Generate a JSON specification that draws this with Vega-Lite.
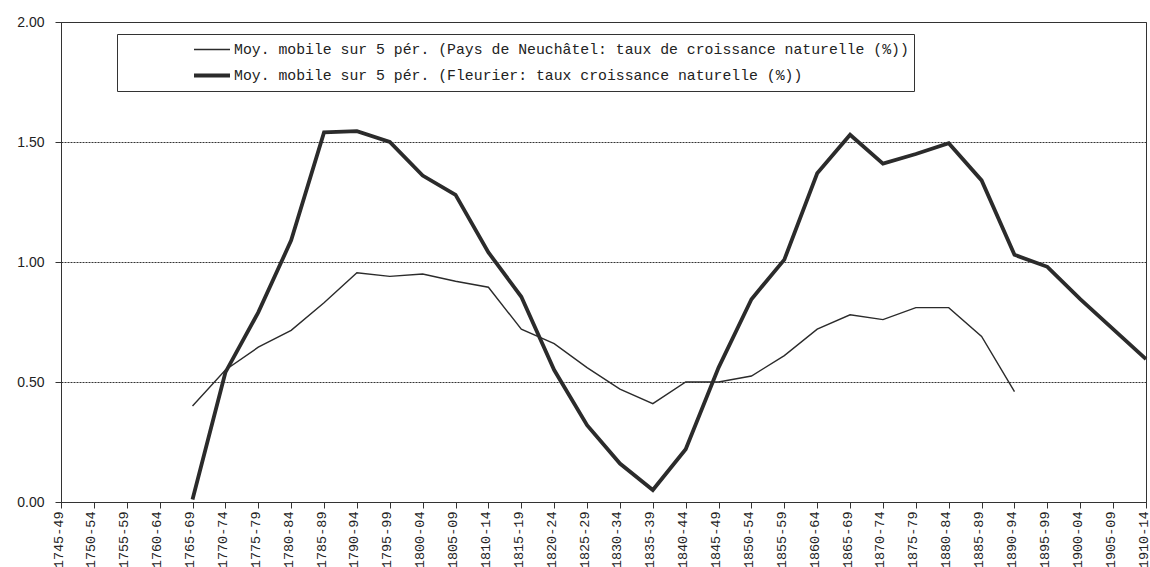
{
  "$schema": "https://vega.github.io/schema/vega-lite/v6.json",
  "autosize": "none",
  "width": 1085,
  "height": 480,
  "padding": {"left": 61, "top": 22, "right": 4, "bottom": 65},
  "background": "white",
  "config": {
    "view": {"stroke": "#333333", "strokeWidth": 1},
    "font": "Liberation Mono"
  },
  "data": {
    "values": [
      {"periode": "1765-69", "serie": "N", "valeur": 0.40},
      {"periode": "1770-74", "serie": "N", "valeur": 0.55},
      {"periode": "1775-79", "serie": "N", "valeur": 0.645},
      {"periode": "1780-84", "serie": "N", "valeur": 0.715},
      {"periode": "1785-89", "serie": "N", "valeur": 0.83},
      {"periode": "1790-94", "serie": "N", "valeur": 0.955},
      {"periode": "1795-99", "serie": "N", "valeur": 0.94},
      {"periode": "1800-04", "serie": "N", "valeur": 0.95},
      {"periode": "1805-09", "serie": "N", "valeur": 0.92},
      {"periode": "1810-14", "serie": "N", "valeur": 0.895},
      {"periode": "1815-19", "serie": "N", "valeur": 0.72},
      {"periode": "1820-24", "serie": "N", "valeur": 0.66},
      {"periode": "1825-29", "serie": "N", "valeur": 0.56},
      {"periode": "1830-34", "serie": "N", "valeur": 0.47},
      {"periode": "1835-39", "serie": "N", "valeur": 0.41},
      {"periode": "1840-44", "serie": "N", "valeur": 0.50},
      {"periode": "1845-49", "serie": "N", "valeur": 0.50},
      {"periode": "1850-54", "serie": "N", "valeur": 0.525},
      {"periode": "1855-59", "serie": "N", "valeur": 0.61},
      {"periode": "1860-64", "serie": "N", "valeur": 0.72},
      {"periode": "1865-69", "serie": "N", "valeur": 0.78},
      {"periode": "1870-74", "serie": "N", "valeur": 0.76},
      {"periode": "1875-79", "serie": "N", "valeur": 0.81},
      {"periode": "1880-84", "serie": "N", "valeur": 0.81},
      {"periode": "1885-89", "serie": "N", "valeur": 0.69},
      {"periode": "1890-94", "serie": "N", "valeur": 0.46},
      {"periode": "1765-69", "serie": "F", "valeur": 0.01},
      {"periode": "1770-74", "serie": "F", "valeur": 0.54},
      {"periode": "1775-79", "serie": "F", "valeur": 0.79},
      {"periode": "1780-84", "serie": "F", "valeur": 1.09},
      {"periode": "1785-89", "serie": "F", "valeur": 1.54},
      {"periode": "1790-94", "serie": "F", "valeur": 1.545},
      {"periode": "1795-99", "serie": "F", "valeur": 1.50},
      {"periode": "1800-04", "serie": "F", "valeur": 1.36},
      {"periode": "1805-09", "serie": "F", "valeur": 1.28},
      {"periode": "1810-14", "serie": "F", "valeur": 1.04},
      {"periode": "1815-19", "serie": "F", "valeur": 0.855},
      {"periode": "1820-24", "serie": "F", "valeur": 0.55},
      {"periode": "1825-29", "serie": "F", "valeur": 0.32},
      {"periode": "1830-34", "serie": "F", "valeur": 0.16},
      {"periode": "1835-39", "serie": "F", "valeur": 0.05},
      {"periode": "1840-44", "serie": "F", "valeur": 0.22},
      {"periode": "1845-49", "serie": "F", "valeur": 0.56},
      {"periode": "1850-54", "serie": "F", "valeur": 0.845},
      {"periode": "1855-59", "serie": "F", "valeur": 1.01},
      {"periode": "1860-64", "serie": "F", "valeur": 1.37},
      {"periode": "1865-69", "serie": "F", "valeur": 1.53},
      {"periode": "1870-74", "serie": "F", "valeur": 1.41},
      {"periode": "1875-79", "serie": "F", "valeur": 1.45},
      {"periode": "1880-84", "serie": "F", "valeur": 1.495},
      {"periode": "1885-89", "serie": "F", "valeur": 1.34},
      {"periode": "1890-94", "serie": "F", "valeur": 1.03},
      {"periode": "1895-99", "serie": "F", "valeur": 0.98},
      {"periode": "1900-04", "serie": "F", "valeur": 0.845},
      {"periode": "1905-09", "serie": "F", "valeur": 0.72},
      {"periode": "1910-14", "serie": "F", "valeur": 0.595}
    ]
  },
  "mark": {"type": "line", "color": "#2b2b2b", "strokeJoin": "miter"},
  "encoding": {
    "x": {
      "field": "periode",
      "type": "ordinal",
      "scale": {
        "type": "point",
        "padding": 0,
        "domain": ["1745-49","1750-54","1755-59","1760-64","1765-69","1770-74","1775-79","1780-84","1785-89","1790-94","1795-99","1800-04","1805-09","1810-14","1815-19","1820-24","1825-29","1830-34","1835-39","1840-44","1845-49","1850-54","1855-59","1860-64","1865-69","1870-74","1875-79","1880-84","1885-89","1890-94","1895-99","1900-04","1905-09","1910-14"]
      },
      "axis": {
        "title": null,
        "labelAngle": -90,
        "labelFont": "Liberation Mono",
        "labelFontSize": 13.5,
        "labelColor": "#222222",
        "labelPadding": 3,
        "labelOffset": -3,
        "tickSize": 6,
        "tickColor": "#333333",
        "domainColor": "#333333",
        "grid": false,
        "labelOverlap": false
      }
    },
    "y": {
      "field": "valeur",
      "type": "quantitative",
      "scale": {"domain": [0, 2], "nice": false},
      "axis": {
        "title": null,
        "values": [0, 0.5, 1, 1.5, 2],
        "format": ".2f",
        "labelFont": "Liberation Sans",
        "labelFontSize": 14,
        "labelColor": "#222222",
        "labelPadding": 11,
        "tickSize": 6,
        "tickColor": "#333333",
        "domainColor": "#333333",
        "grid": true,
        "gridColor": "#333333",
        "gridDash": [2, 1],
        "gridWidth": 1
      }
    },
    "strokeWidth": {
      "field": "serie",
      "type": "ordinal",
      "scale": {"domain": ["N", "F"], "range": [1.4, 3.8]},
      "legend": {
        "title": null,
        "orient": "none",
        "legendX": 56,
        "legendY": 12,
        "symbolType": "stroke",
        "symbolStrokeColor": "#2b2b2b",
        "symbolSize": 1296,
        "clipHeight": 21,
        "labelFont": "Liberation Mono",
        "labelFontSize": 14.8,
        "labelColor": "#222222",
        "labelLimit": 1000,
        "labelOffset": 2,
        "rowPadding": 5,
        "padding": 5,
        "symbolOffset": 70,
        "strokeColor": "#333333",
        "fillColor": "white",
        "labelExpr": "datum.label == 'N' ? 'Moy. mobile sur 5 pér. (Pays de Neuchâtel: taux de croissance naturelle (%))' : 'Moy. mobile sur 5 pér. (Fleurier: taux croissance naturelle (%))'"
      }
    }
  }
}
